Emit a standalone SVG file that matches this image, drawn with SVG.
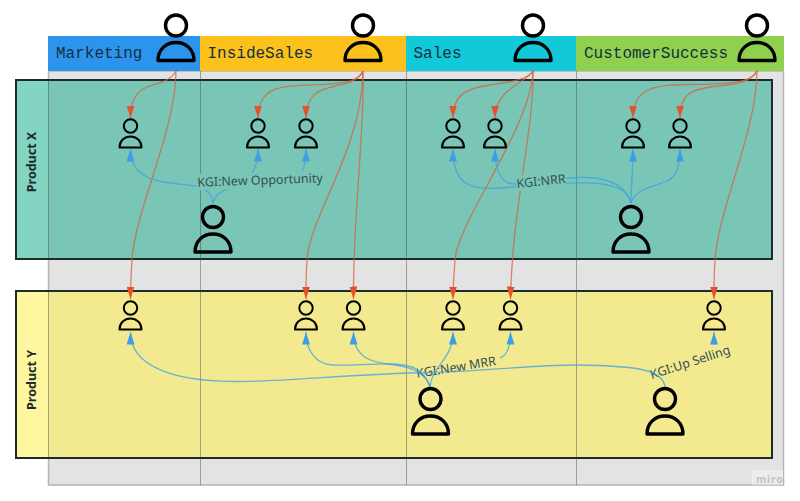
<svg xmlns="http://www.w3.org/2000/svg" width="800" height="501" viewBox="0 0 800 501">
<style>
.h{font-family:"Liberation Mono","DejaVu Sans Mono",monospace;font-size:16px;fill:#12303f}
.p{font-family:"Noto Sans","Open Sans",sans-serif;font-size:12.500px;font-weight:700;fill:#1a2a2a;text-anchor:middle}
.k{font-family:"Noto Sans","Open Sans",sans-serif;font-size:12.500px;fill:#35504f;text-anchor:middle}
.g{stroke:#3c4a48;stroke-opacity:.45;stroke-width:1;fill:none}
.r{fill:none;stroke:#d5603f;stroke-opacity:.75;stroke-width:1.300;marker-end:url(#ar)}
.b{fill:none;stroke:#3d9fe6;stroke-opacity:.75;stroke-width:1.300;marker-end:url(#ab)}
.f{stroke:#1c2b2b;stroke-width:2}
</style>
<defs>
<marker id="ar" markerUnits="userSpaceOnUse" markerWidth="13" markerHeight="8" refX="12.500" refY="4" orient="auto" viewBox="0 0 13 8"><path d="M0 0L12.500 4L0 8Z" fill="#e5532d"/></marker>
<marker id="ab" markerUnits="userSpaceOnUse" markerWidth="13" markerHeight="8" refX="12.500" refY="4" orient="auto" viewBox="0 0 13 8"><path d="M0 0L12.500 4L0 8Z" fill="#3d9fe6"/></marker>
<g id="big" fill="none" stroke="#000" stroke-width="3.400"><circle cx="0" cy="0" r="10.500"/><path d="M-18 35C-18 24-10 17 0 17S18 24 18 35Z" stroke-linejoin="round"/></g>
<g id="small" fill="none" stroke="#000" stroke-width="2"><circle cx="0" cy="0" r="6.700"/><path d="M-11 21.500C-11 15-6 10.500 0 10.500S11 15 11 21.500Z" stroke-linejoin="round"/></g>
</defs>
<rect width="800" height="501" fill="#fff"/>
<g id="lanes">
<rect x="48.500" y="71" width="735" height="414" fill="#e4e3e4" stroke="#b5b5b5" stroke-width="1.500"/>
<rect x="48" y="36" width="152" height="35" fill="#2d94ee"/>
<rect x="200" y="36" width="206" height="35" fill="#fcc21b"/>
<rect x="406" y="36" width="170" height="35" fill="#12c9d9"/>
<rect x="576" y="36" width="208" height="35" fill="#90d04f"/>
<text class="h" x="56" y="58">Marketing</text>
<text class="h" x="207.500" y="58">InsideSales</text>
<text class="h" x="413.500" y="58">Sales</text>
<text class="h" x="584" y="58">CustomerSuccess</text>
</g>
<g id="product-x">
<rect x="16" y="80" width="756" height="179" fill="#7ac6b6" class="f"/>
<rect x="17" y="81" width="31" height="177" fill="#84d4c2"/>
<text class="p" transform="translate(36,162) rotate(-90)">Product X</text>
</g>
<g id="product-y">
<rect x="16" y="291" width="756" height="167" fill="#f3ea90" class="f"/>
<rect x="17" y="292" width="31" height="165" fill="#fff6a0"/>
<text class="p" transform="translate(36,380) rotate(-90)">Product Y</text>
</g>
<g id="grid">
<path class="g" d="M48.500 81V258M48.500 292V457"/>
<path class="g" d="M200.500 71V485M406.500 71V485M576.500 71V485"/>
</g>
<g id="label-new-mrr" transform="translate(456,367) rotate(-9)"><text class="k" y="4.500">KGI:New MRR</text></g>
<g id="label-up-selling" transform="translate(690,362) rotate(-18)"><text class="k" y="4.500">KGI:Up Selling</text></g>
<g id="connectors">
<path class="r" d="M176 71C170 82 157 83 147 87C137 91 130.500 100 130.500 118"/>
<path class="r" d="M176 71C176 130 135 210 132 260C131 275 130.500 285 130.500 299"/>
<path class="r" d="M363 71C358 84 335 84 310 85C285 86 258 85 258 118"/>
<path class="r" d="M363 71C358 82 345 84 335 86C318 90 306 95 306 118"/>
<path class="r" d="M363 71C362 150 310 215 307 260C306 275 306 285 306 299"/>
<path class="r" d="M363 71C365 130 353 210 353.500 299"/>
<path class="r" d="M533 71C527 80 510 82 490 85C470 88 453 92 453 118"/>
<path class="r" d="M533 71C528 82 495 88 495 118"/>
<path class="r" d="M533 71C530 130 458 220 455 260C454 275 453 285 453 299"/>
<path class="r" d="M533 71C534 130 512 210 510.500 299"/>
<path class="r" d="M757 71C750 85 720 84 690 84.500C660 85 633 85 633 118"/>
<path class="r" d="M757 71C750 85 725 85 710 87C690 90 680 95 680 118"/>
<path class="r" d="M757 71C757 130 718 210 715 260C714 275 714 285 714 299"/>
<path class="b" d="M213 203C212 193 205 188 195 186C170 182 130.500 185 130.500 149"/>
<path class="b" d="M213 203C216 192 225 190 235 186C250 180 258 170 258 149"/>
<path class="b" d="M302 172C304 168 306 160 306 149"/>
<path class="b" d="M631 203C631 185 633 170 633 149"/>
<path class="b" d="M631 203C635 190 650 187 665 182C675 178 680 170 680 149"/>
<path class="b" d="M631 203C628 190 615 184 590 183C560 182 530 186 500 188C470 190 453 185 453 149"/>
<path class="b" d="M631 203C626 186 610 178 585 177.500C560 177 535 183 515 184C500 184 495 170 495 149"/>
<path class="b" d="M665 387C663 370 640 366 577 365C530 365 490 371 430 372.500C350 374 280 382 233 381.500C170 381 130.500 365 130.500 332"/>
<path class="b" d="M430 387C424 368 410 365 395 364C375 363 350 366 333 365C315 364 306 350 306 332"/>
<path class="b" d="M430 387C426 372 410 367 395 365C375 363 353.500 360 353.500 332"/>
<path class="b" d="M430 387C432 365 453 360 453 332"/>
<path class="b" d="M500 358C506 356 510.500 348 510.500 332"/>
<path class="b" d="M714 345C714 340 714 338 714 332"/>
</g>
<g id="label-new-opportunity" transform="translate(260,180) rotate(-2)"><rect x="-64" y="-8" width="128" height="16" fill="#7ac6b6"/><text class="k" y="4.500">KGI:New Opportunity</text></g>
<g id="label-nrr" transform="translate(541,181) rotate(-6)"><rect x="-25" y="-8" width="50" height="16" fill="#7ac6b6"/><text class="k" y="4.500">KGI:NRR</text></g>
<g id="lead-marketing"><use href="#big" x="176" y="25.500"/></g>
<g id="lead-insidesales"><use href="#big" x="363" y="25.500"/></g>
<g id="lead-sales"><use href="#big" x="533" y="25.500"/></g>
<g id="lead-customersuccess"><use href="#big" x="757" y="25.500"/></g>
<g id="owner-x1"><use href="#big" x="213" y="217"/></g>
<g id="owner-x2"><use href="#big" x="631" y="217"/></g>
<g id="owner-y1"><use href="#big" x="430.500" y="399"/></g>
<g id="owner-y2"><use href="#big" x="665" y="399"/></g>
<g id="x-marketing"><use href="#small" x="130.500" y="126"/></g>
<g id="x-inside-1"><use href="#small" x="258" y="126"/></g>
<g id="x-inside-2"><use href="#small" x="306" y="126"/></g>
<g id="x-sales-1"><use href="#small" x="453" y="126"/></g>
<g id="x-sales-2"><use href="#small" x="495" y="126"/></g>
<g id="x-cs-1"><use href="#small" x="633" y="126"/></g>
<g id="x-cs-2"><use href="#small" x="680" y="126"/></g>
<g id="y-marketing"><use href="#small" x="130.500" y="308"/></g>
<g id="y-inside-1"><use href="#small" x="306" y="308"/></g>
<g id="y-inside-2"><use href="#small" x="353.500" y="308"/></g>
<g id="y-sales-1"><use href="#small" x="453" y="308"/></g>
<g id="y-sales-2"><use href="#small" x="510.500" y="308"/></g>
<g id="y-cs"><use href="#small" x="714" y="308"/></g>
<g id="watermark"><rect x="752" y="470" width="31" height="14.500" fill="#ececec"/><text x="756" y="483" font-family="Noto Sans,sans-serif" font-size="10.500" font-weight="700" letter-spacing=".8" fill="#c4c4c4">miro</text></g>
</svg>
